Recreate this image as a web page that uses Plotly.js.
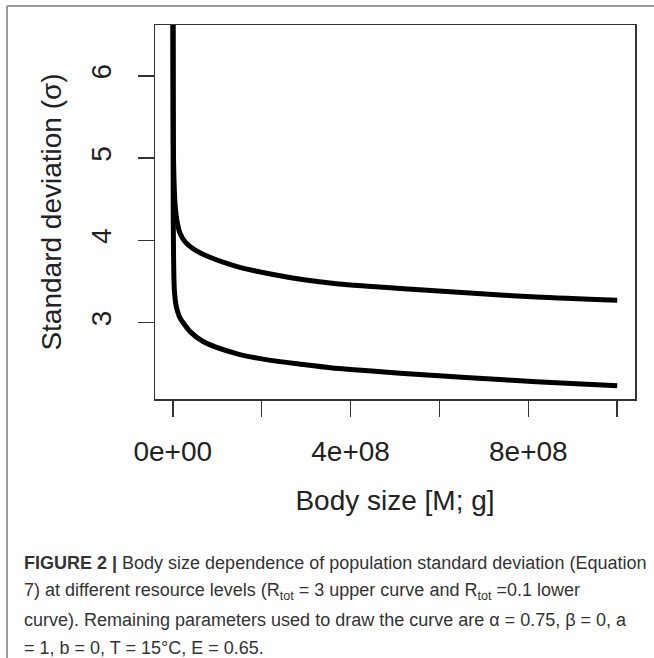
<!DOCTYPE html>
<html>
<head>
<meta charset="utf-8">
<script src="https://cdn.plot.ly/plotly-3.0.1.min.js"></script>
<style>html,body{margin:0;padding:0;background:#fff;}</style>
</head>
<body>
<div id="chart" style="width:654px;height:658px;"></div>
<script>
// Body size M [g]
var upperM = [2e5, 1e6, 2e6, 5e6, 1e7, 1.6e7, 2.8e7, 4.5e7, 6.8e7, 1.45e8, 2.2e8, 2.95e8, 3.73e8, 4.48e8, 5.2e8, 6.68e8, 8.18e8, 1e9];
// Standard deviation, R_tot = 3 (upper curve)
var upperSigma = [7.5, 5.6, 4.9, 4.45, 4.22, 4.09, 3.98, 3.9, 3.83, 3.68, 3.59, 3.52, 3.47, 3.44, 3.41, 3.36, 3.31, 3.27];
var lowerM = [2e5, 1e6, 2e6, 3.5e6, 7e6, 1.1e7, 1.6e7, 2.3e7, 3.9e7, 6.8e7, 1.45e8, 2.2e8, 2.95e8, 3.73e8, 4.48e8, 5.2e8, 6.68e8, 8.18e8, 1e9];
// Standard deviation, R_tot = 0.1 (lower curve)
var lowerSigma = [7.5, 4.3, 3.7, 3.4, 3.22, 3.13, 3.06, 3.0, 2.89, 2.77, 2.62, 2.54, 2.49, 2.44, 2.41, 2.38, 2.33, 2.28, 2.23];

var xTickVals = [0, 2e8, 4e8, 6e8, 8e8, 1e9];
var xTickText = ["0e+00", "", "4e+08", "", "8e+08", ""];
var yTickVals = [3, 4, 5, 6];
var yTickText = ["3", "4", "5", "6"];

var captionLines = [
  "<b>FIGURE 2 |</b> Body size dependence of population standard deviation (Equation",
  "7) at different resource levels (R<sub>tot</sub> = 3 upper curve and R<sub>tot</sub> =0.1 lower",
  "curve). Remaining parameters used to draw the curve are α = 0.75, β = 0, a",
  "= 1, b = 0, T = 15°C, E = 0.65."
];

var font = "Liberation Sans, Arial, Helvetica, sans-serif";

var traces = [
  {x: upperM, y: upperSigma, mode: "lines", line: {color: "#000", width: 5, shape: "spline", smoothing: 0.8}, hoverinfo: "skip"},
  {x: lowerM, y: lowerSigma, mode: "lines", line: {color: "#000", width: 5, shape: "spline", smoothing: 0.8}, hoverinfo: "skip"}
];

var plotL = 155, plotR = 635, plotT = 25, plotB = 399;
function px2x(px){ return (px - plotL) / (plotR - plotL); }
function py2y(py){ return (plotB - py) / (plotB - plotT); }

var captionY = [563, 591, 620, 648];
var annotations = captionLines.map(function(t, i){
  return {text: t, xref: "paper", yref: "paper", x: px2x(22), y: py2y(captionY[i]),
          xanchor: "left", yanchor: "middle", showarrow: false,
          font: {family: font, size: 18, color: "#333"}};
});

var layout = {
  width: 654, height: 658,
  margin: {l: plotL, r: 654 - plotR, t: plotT, b: 658 - plotB},
  paper_bgcolor: "#fff", plot_bgcolor: "#fff",
  showlegend: false,
  font: {family: font, color: "#222"},
  xaxis: {
    range: [-4e7, 1.04e9], showgrid: false, zeroline: false,
    showline: true, mirror: true, linecolor: "#333", linewidth: 1.5,
    ticks: "outside", ticklen: 16, tickwidth: 1.5, tickcolor: "#333",
    tickvals: xTickVals, ticktext: xTickText,
    tickfont: {size: 28, color: "#222"}, ticklabelstandoff: 11,
    title: {text: "Body size [M; g]", font: {size: 28, color: "#222"}, standoff: 24}
  },
  yaxis: {
    range: [2.07, 6.62], showgrid: false, zeroline: false,
    showline: true, mirror: true, linecolor: "#333", linewidth: 1.5,
    ticks: "outside", ticklen: 16, tickwidth: 1.5, tickcolor: "#333",
    tickvals: yTickVals, ticktext: yTickText, tickangle: -90,
    tickfont: {size: 28, color: "#222"}, ticklabelstandoff: 15,
    title: {text: "Standard deviation (σ)", font: {size: 28, color: "#222"}, standoff: 16}
  },
  shapes: [
    {type: "line", xref: "paper", yref: "paper", x0: px2x(7), x1: px2x(654), y0: py2y(6), y1: py2y(6), line: {color: "#999", width: 2}},
    {type: "line", xref: "paper", yref: "paper", x0: px2x(7), x1: px2x(7), y0: py2y(6), y1: py2y(658), line: {color: "#999", width: 2}}
  ],
  annotations: annotations
};

Plotly.newPlot("chart", traces, layout, {displayModeBar: false, staticPlot: true});
</script>
</body>
</html>
